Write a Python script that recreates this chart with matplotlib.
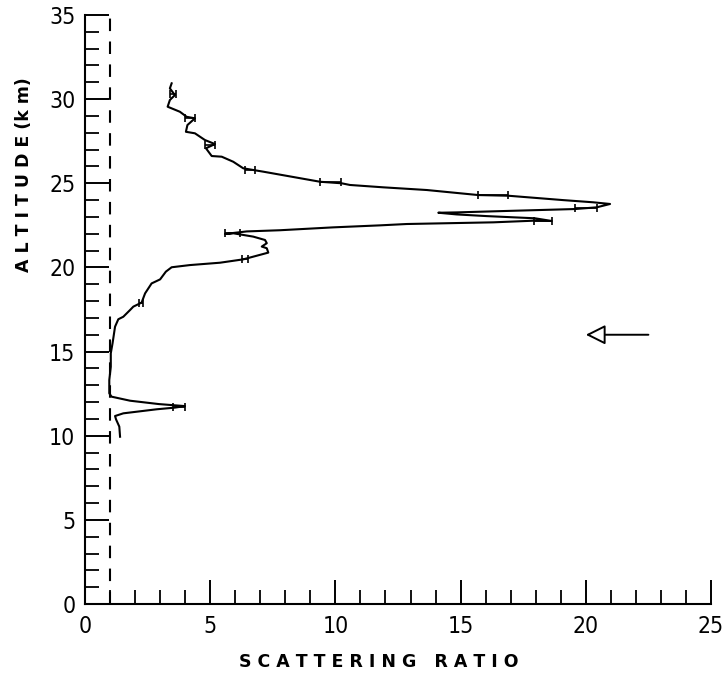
import numpy as np
import matplotlib.pyplot as plt
from matplotlib.ticker import MultipleLocator

# lidar profile: scattering ratio vs altitude (km)
ratio = [1.40, 1.37, 1.24, 1.20, 1.53, 2.86, 3.59, 3.99, 2.95, 1.80,
         1.06, 0.97, 0.97, 1.03, 1.03, 1.10, 1.20, 1.33, 1.53, 1.80,
         1.93, 2.26, 2.40, 2.66, 3.00, 3.23, 3.46, 4.19, 5.39, 6.32,
         7.32, 7.26, 7.06, 7.26, 7.19, 6.72, 5.92, 5.59, 6.46, 7.79,
         9.90, 11.78, 12.85, 16.31, 17.97, 18.64, 17.97, 16.04, 14.84, 14.11,
         14.84, 16.70, 19.57, 20.43, 20.97, 20.30, 19.10, 16.91, 15.71, 13.65,
         11.91, 10.58, 10.25, 9.39, 7.12, 6.32, 5.92, 5.46, 5.06, 4.83,
         5.19, 4.79, 4.39, 4.03, 4.09, 4.39, 4.06, 3.79, 3.30, 3.39,
         3.59, 3.39, 3.46]
altitude = [9.94, 10.54, 10.97, 11.17, 11.33, 11.57, 11.67, 11.76, 11.88, 12.08,
            12.32, 12.52, 13.31, 14.10, 14.90, 15.49, 16.48, 16.92, 17.07, 17.47,
            17.67, 17.91, 18.46, 19.05, 19.29, 19.75, 20.01, 20.14, 20.28, 20.48,
            20.88, 21.14, 21.24, 21.44, 21.63, 21.83, 22.03, 21.99, 22.14, 22.21,
            22.38, 22.50, 22.58, 22.68, 22.78, 22.76, 22.92, 23.05, 23.15, 23.25,
            23.27, 23.35, 23.47, 23.57, 23.77, 23.87, 24.00, 24.26, 24.30, 24.60,
            24.76, 24.90, 25.00, 25.09, 25.69, 25.89, 26.28, 26.58, 26.62, 27.08,
            27.33, 27.57, 27.97, 28.06, 28.46, 28.86, 28.95, 29.25, 29.55, 29.95,
            30.24, 30.64, 30.94]

# error bars on a few points
err_alt = [11.72, 17.91, 20.48, 22.05, 22.77, 23.52, 24.28, 25.05, 25.80, 27.30, 28.90, 30.30]
err_ratio = [3.75, 2.25, 6.40, 5.90, 18.30, 20.00, 16.30, 9.80, 6.60, 5.00, 4.20, 3.50]
err_size = [0.25, 0.08, 0.12, 0.30, 0.35, 0.43, 0.60, 0.43, 0.20, 0.20, 0.20, 0.12]

ref_ratio = 1.0
arrow_alt = 16.0
arrow_from, arrow_to = 22.5, 20.0

xticks = [0, 5, 10, 15, 20, 25]
yticks = [0, 5, 10, 15, 20, 25, 30, 35]

fig = plt.figure(figsize=(7.26, 6.75), dpi=100)
ax = fig.add_axes([85 / 726, 1 - 604 / 675, 626 / 726, 589 / 675])

ax.plot(ratio, altitude, color='black', lw=1.5)
ax.errorbar(err_ratio, err_alt, xerr=err_size, fmt='none', ecolor='black',
            elinewidth=1.2, capsize=3.0, capthick=1.2)
ax.plot([ref_ratio, ref_ratio], [0, 35], color='black', lw=1.5, dashes=(6, 5))

ax.annotate('', xy=(arrow_to, arrow_alt), xytext=(arrow_from, arrow_alt),
            arrowprops=dict(arrowstyle='-|>,head_length=1.2,head_width=0.6',
                            fc='white', ec='black', lw=1.4, mutation_scale=10,
                            shrinkA=0, shrinkB=0))

ax.set_xlim(0, 25)
ax.set_ylim(0, 35)
ax.spines['top'].set_visible(False)
ax.spines['right'].set_visible(False)
ax.spines['left'].set_linewidth(1.5)
ax.spines['bottom'].set_linewidth(1.5)

ax.set_xticks(xticks)
ax.set_yticks(yticks)
ax.xaxis.set_minor_locator(MultipleLocator(1))
ax.yaxis.set_minor_locator(MultipleLocator(1))
ax.tick_params(which='major', direction='in', length=17, width=1.4, pad=8)
ax.tick_params(which='minor', direction='in', length=10, width=1.3)
ax.tick_params(axis='y', which='major', pad=7)

for lab in ax.get_xticklabels() + ax.get_yticklabels():
    lab.set_family('DejaVu Sans')
    lab.set_stretch('condensed')
    lab.set_fontsize(16.5)

fig.text(379 / 726, 1 - 662 / 675, 'S C A T T E R I N G   R A T I O',
         ha='center', va='center', fontsize=12.5, fontweight='bold')
fig.text(24 / 726, 1 - 175 / 675, 'A L T I T U D E (k m)',
         ha='center', va='center', rotation=90, fontsize=12.5, fontweight='bold')

plt.savefig('out.png', dpi=100)
